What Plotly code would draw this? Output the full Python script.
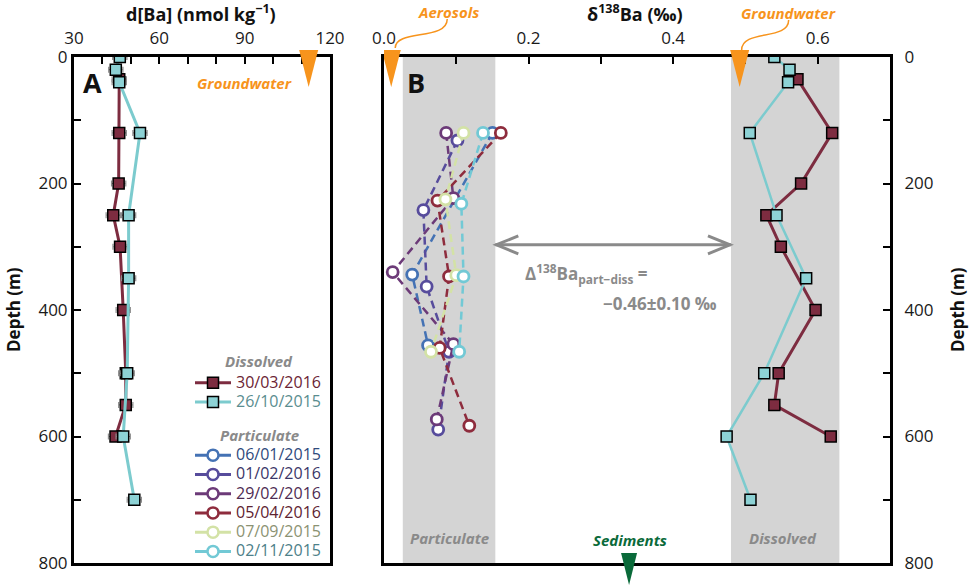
import plotly.graph_objects as go

# ---------------- DATA ----------------
# Panel A: dissolved Ba concentration (nmol/kg) vs depth (m)
a_depth_3003 = [35, 120, 200, 250, 300, 400, 500, 550, 600]
a_ba_3003 = [45.9, 45.9, 45.7, 43.8, 46.2, 47.3, 48.2, 48.2, 44.6]
a_err_3003 = [2.5, 2.5, 2.5, 2.5, 2.5, 2.5, 2.5, 2.5, 2.5]
a_depth_2610 = [0, 20, 40, 120, 250, 350, 500, 600, 700]
a_ba_2610 = [46.1, 44.7, 45.9, 53.2, 49.2, 49.2, 48.7, 47.3, 51.2]
a_err_2610 = [2.5, 2.5, 2.5, 2.5, 2.5, 2.5, 2.5, 2.5, 2.5]
groundwater_dba = 112.5

# Panel B: dissolved d138Ba (permil)
b_depth_3003 = [35, 120, 200, 250, 300, 400, 500, 550, 600]
b_d_3003 = [0.572, 0.620, 0.577, 0.529, 0.549, 0.597, 0.546, 0.540, 0.618]
b_depth_2610 = [0, 20, 40, 120, 250, 350, 500, 600, 700]
b_d_2610 = [0.540, 0.561, 0.559, 0.506, 0.543, 0.584, 0.526, 0.474, 0.507]

# Panel B: particulate d138Ba
part_names = ["06/01/2015", "01/02/2016", "29/02/2016", "05/04/2016", "07/09/2015", "02/11/2015"]
part_depths = [
    [120, 344, 456],
    [132, 242, 363, 466, 589],
    [120, 223, 340, 454, 573],
    [120, 227, 347, 460, 583],
    [120, 225, 345, 466],
    [120, 232, 347, 466],
]
part_vals = [
    [0.150, 0.039, 0.061],
    [0.1016, 0.0545, 0.059, 0.090, 0.075],
    [0.086, 0.096, 0.012, 0.096, 0.073],
    [0.1616, 0.074, 0.090, 0.077, 0.118],
    [0.110, 0.085, 0.100, 0.065],
    [0.137, 0.107, 0.110, 0.104],
]
part_colors = ["#4472b4", "#574c9c", "#6c3a78", "#8e2c3d", "#d3e2a6", "#72c9d5"]
part_textcolors = ["#2f4a7c", "#3b3668", "#4e2b52", "#5e2331", "#8b9272", "#4d8089"]

band_particulate = [0.026, 0.154]
band_dissolved = [0.480, 0.630]
aerosol_d = 0.010
groundwater_d = 0.492
sediment_d = 0.339
arrow_depth = 297

# ---------------- STYLE ----------------
MAROON = "#7d2c40"
CYAN = "#8dd2d5"
CYAN_LINE = "#7ccbce"
ORANGE = "#f7941d"
GREEN = "#0a6a3a"
GRAY = "#8a8a8a"
FONT = "Open Sans"
LEG_TXT = "font-size:16px"

fig = go.Figure()

# Panel A traces
fig.add_trace(go.Scatter(
    x=a_ba_3003, y=a_depth_3003, xaxis="x", yaxis="y", mode="lines+markers",
    name=f"<span style='color:#6b2434;{LEG_TXT}'>30/03/2016</span>", legendgroup="d",
    line=dict(color=MAROON, width=3),
    marker=dict(symbol="square", size=11, color=MAROON, line=dict(color="black", width=1.5)),
    error_x=dict(type="data", array=a_err_3003, color="#8c8c8c", thickness=1.2, width=3),
))
fig.add_trace(go.Scatter(
    x=a_ba_2610, y=a_depth_2610, xaxis="x", yaxis="y", mode="lines+markers",
    name=f"<span style='color:#5a8d8f;{LEG_TXT}'>26/10/2015</span>", legendgroup="d",
    line=dict(color=CYAN_LINE, width=3),
    marker=dict(symbol="square", size=11, color=CYAN, line=dict(color="black", width=1.5)),
    error_x=dict(type="data", array=a_err_2610, color="#8c8c8c", thickness=1.2, width=3),
))

# Legend proxies for particulate (solid lines in legend)
for name, col, tcol in zip(part_names, part_colors, part_textcolors):
    fig.add_trace(go.Scatter(
        x=[None], y=[None], xaxis="x", yaxis="y", mode="lines+markers",
        name=f"<span style='color:{tcol};{LEG_TXT}'>{name}</span>", legendgroup="p",
        line=dict(color=col, width=3),
        marker=dict(symbol="circle", size=11, color="white", line=dict(color=col, width=2.5)),
    ))

# Panel B particulate
for name, col, dep, val in zip(part_names, part_colors, part_depths, part_vals):
    fig.add_trace(go.Scatter(
        x=val, y=dep, xaxis="x2", yaxis="y2", mode="lines+markers", showlegend=False,
        line=dict(color=col, width=2.5, dash="8px,5px"),
        marker=dict(symbol="circle", size=11, color="white", line=dict(color=col, width=2.8)),
    ))

# Panel B dissolved
fig.add_trace(go.Scatter(
    x=b_d_3003, y=b_depth_3003, xaxis="x2", yaxis="y2", mode="lines+markers", showlegend=False,
    line=dict(color=MAROON, width=3),
    marker=dict(symbol="square", size=11, color=MAROON, line=dict(color="black", width=1.5)),
))
fig.add_trace(go.Scatter(
    x=b_d_2610, y=b_depth_2610, xaxis="x2", yaxis="y2", mode="lines+markers", showlegend=False,
    line=dict(color=CYAN_LINE, width=2.5),
    marker=dict(symbol="square", size=11, color=CYAN, line=dict(color="black", width=1.5)),
))

axis_common = dict(showline=True, linewidth=3, linecolor="black", mirror=True,
                   showgrid=False, zeroline=False, ticks="inside", ticklen=7,
                   tickwidth=2, tickcolor="black", automargin=False,
                   tickfont=dict(family=FONT, size=17, color="#1a1a1a"))
minor_common = dict(ticks="inside", ticklen=7, tickwidth=2, tickcolor="black")

fig.update_layout(
    width=969, height=588,
    margin=dict(l=0, r=0, t=57, b=25, autoexpand=False),
    paper_bgcolor="white", plot_bgcolor="rgba(0,0,0,0)",
    font=dict(family=FONT, size=16, color="#222"),
    xaxis=dict(domain=[74/969, 330/969], range=[30, 120], side="top", anchor="y",
               tickvals=[30, 60, 90, 120], ticklabelstandoff=3,
               minor=dict(dtick=10, tick0=30, **minor_common),
               **axis_common),
    yaxis=dict(domain=[0, 1], range=[800, 0], anchor="x", tickvals=[0, 200, 400, 600, 800],
               ticklabelstandoff=0,
               minor=dict(dtick=100, **minor_common),
               **axis_common),
    xaxis2=dict(domain=[384/969, 890/969], range=[0, 0.7], side="top", anchor="y2",
                tickvals=[0, 0.2, 0.4, 0.6], ticktext=["0.0", "0.2", "0.4", "0.6"],
                ticklabelstandoff=3,
                minor=dict(dtick=0.1, tick0=0, **minor_common),
                **axis_common),
    yaxis2=dict(domain=[0, 1], range=[800, 0], anchor="x2", side="right",
                tickvals=[0, 200, 400, 600, 800], ticklabelstandoff=8,
                minor=dict(dtick=100, **minor_common),
                **axis_common),
    legend=dict(x=190/969, y=(563-368)/506, xanchor="left", yanchor="top",
                bgcolor="rgba(0,0,0,0)", borderwidth=0, tracegroupgap=34,
                font=dict(family=FONT, size=12.5), itemwidth=36),
)

# Shapes
shapes = []
for band in (band_particulate, band_dissolved):
    shapes.append(dict(type="rect", xref="x2", yref="paper", x0=band[0], x1=band[1], y0=0, y1=1,
                       fillcolor="#d4d4d4", line=dict(width=0), layer="below"))
tri_top = "M -9.5,7 L 9.5,7 L 0,-30 Z"
shapes.append(dict(type="path", xref="x", yref="paper", xsizemode="pixel", ysizemode="pixel",
                   xanchor=groundwater_dba, yanchor=1, path=tri_top, fillcolor=ORANGE, line=dict(width=0)))
shapes.append(dict(type="path", xref="x2", yref="paper", xsizemode="pixel", ysizemode="pixel",
                   xanchor=aerosol_d, yanchor=1, path=tri_top, fillcolor=ORANGE, line=dict(width=0)))
shapes.append(dict(type="path", xref="x2", yref="paper", xsizemode="pixel", ysizemode="pixel",
                   xanchor=groundwater_d, yanchor=1, path=tri_top, fillcolor=ORANGE, line=dict(width=0)))
shapes.append(dict(type="path", xref="x2", yref="paper", xsizemode="pixel", ysizemode="pixel",
                   xanchor=sediment_d, yanchor=0, path="M -8,10 L 8,10 L 0,-22 Z",
                   fillcolor=GREEN, line=dict(width=0)))
# connectors
shapes.append(dict(type="path", xref="x2", yref="paper", xsizemode="pixel", ysizemode="pixel",
                   xanchor=aerosol_d, yanchor=1, path="M 4,9 C 4,28 56,16 56,38",
                   line=dict(color=ORANGE, width=1.5)))
shapes.append(dict(type="path", xref="x2", yref="paper", xsizemode="pixel", ysizemode="pixel",
                   xanchor=groundwater_d, yanchor=1, path="M 2,7 C 2,28 49,16 49,37",
                   line=dict(color=ORANGE, width=1.5)))
# double arrow
shapes.append(dict(type="line", xref="x2", yref="y2", x0=band_particulate[1], x1=band_dissolved[0],
                   y0=arrow_depth, y1=arrow_depth, line=dict(color=GRAY, width=3)))
shapes.append(dict(type="path", xref="x2", yref="y2", xsizemode="pixel", ysizemode="pixel",
                   xanchor=band_particulate[1], yanchor=arrow_depth, path="M 23,9 L 1,0 L 23,-9",
                   line=dict(color=GRAY, width=3)))
shapes.append(dict(type="path", xref="x2", yref="y2", xsizemode="pixel", ysizemode="pixel",
                   xanchor=band_dissolved[0], yanchor=arrow_depth, path="M -23,9 L -1,0 L -23,-9",
                   line=dict(color=GRAY, width=3)))
fig.update_layout(shapes=shapes)


def px(x):
    return x / 969


def py(y):
    return (563 - y) / 506


def ann(x, y, text, size=16, color="#111", bold=True, italic=False, xanchor="center", angle=0):
    t = text
    if bold:
        t = f"<b>{t}</b>"
    if italic:
        t = f"<i>{t}</i>"
    fig.add_annotation(x=px(x), y=py(y), xref="paper", yref="paper", text=t, showarrow=False,
                       xanchor=xanchor, yanchor="middle", textangle=angle,
                       font=dict(family=FONT, size=size, color=color))


ann(201, 13, "d[Ba] (nmol kg<sup>−1</sup>)", size=18)
ann(635, 13, "δ<sup>138</sup>Ba (‰)", size=18)
ann(13, 310, "Depth (m)", size=17, angle=-90)
ann(957, 310, "Depth (m)", size=17, angle=-90)
ann(92, 82, "A", size=27)
ann(416, 82, "B", size=27)
ann(244, 83, "Groundwater", size=15, color=ORANGE, italic=True)
ann(448, 12, "Aerosols", size=15, color=ORANGE, italic=True)
ann(788, 13, "Groundwater", size=15, color=ORANGE, italic=True)
ann(630, 540, "Sediments", size=15, color=GREEN, italic=True)
ann(449, 538, "Particulate", size=15, color=GRAY, italic=True)
ann(783, 538, "Dissolved", size=15, color=GRAY, italic=True)
ann(259, 361, "Dissolved", size=15, color=GRAY, italic=True)
ann(259, 435, "Particulate", size=15, color=GRAY, italic=True)
ann(523, 273, "Δ<sup>138</sup>Ba<sub>part−diss</sub> =", size=17, color=GRAY, xanchor="left")
ann(719, 303, "−0.46±0.10 ‰", size=17, color=GRAY, xanchor="right")

fig.write_html("out.html", config={"displayModeBar": False},
               post_script="document.body.style.margin='0px';")
